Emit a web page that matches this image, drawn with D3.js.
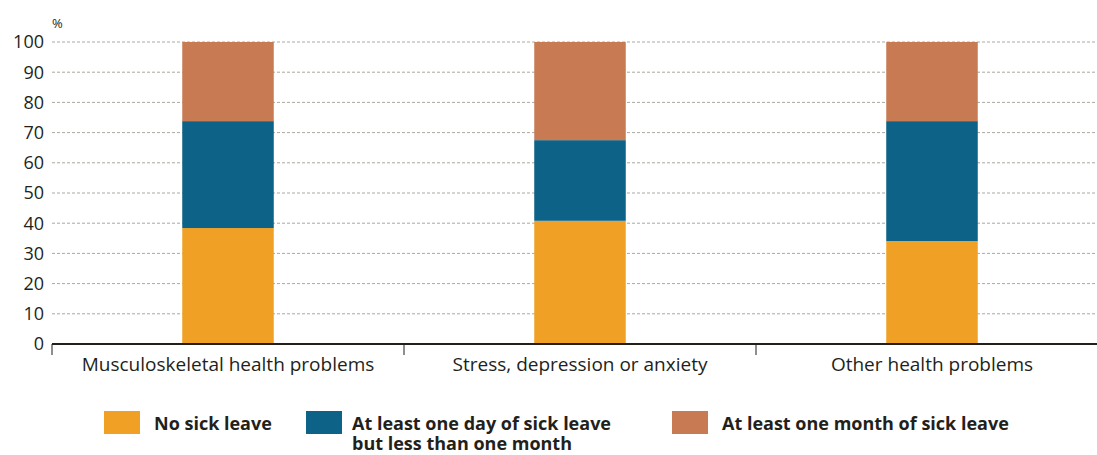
<!DOCTYPE html>
<html>
<head>
<meta charset="utf-8">
<script src="https://cdn.jsdelivr.net/npm/d3@7"></script>
<style>
  body { margin: 0; background: #fff; }
  svg { display: block; font-family: "Open Sans", "Noto Sans", sans-serif; }
  .y-label { font-size: 18px; fill: #231f1a; }
  .x-label { font-size: 19px; fill: #231f1a; }
  .legend-text { font-size: 18px; font-weight: bold; fill: #231f1a; }
</style>
</head>
<body>
<div id="chart"></div>
<script>
// categories and values (percent)
const categories = ["Musculoskeletal health problems", "Stress, depression or anxiety", "Other health problems"];
const noSickLeave = [38.4, 40.8, 34.1];
const atLeastOneDay = [35.4, 26.7, 39.7];
const atLeastOneMonth = [26.2, 32.5, 26.2];
const seriesNames = ["No sick leave", "At least one day of sick leave\nbut less than one month", "At least one month of sick leave"];
const seriesColors = ["#f0a125", "#0d6387", "#c87a53"];
const yTicks = [0, 10, 20, 30, 40, 50, 60, 70, 80, 90, 100];

const width = 1097, height = 455;
const margin = {top: 42, left: 52, bottom: 111};

const svg = d3.select("#chart").append("svg")
    .attr("width", width)
    .attr("height", height);

const rows = categories.map((c, i) => ({
    cat: c,
    s0: noSickLeave[i],
    s1: atLeastOneDay[i],
    s2: atLeastOneMonth[i]
}));

const stack = d3.stack().keys(["s0", "s1", "s2"]);
const stacked = stack(rows);

const x = d3.scaleBand()
    .domain(categories)
    .range([margin.left, margin.left + 352 * 3])
    .paddingInner(0.74)
    .paddingOuter(0.37);

const y = d3.scaleLinear()
    .domain([0, 100])
    .range([height - margin.bottom, margin.top]);

// gridlines
svg.append("g")
    .selectAll("line")
    .data(yTicks.filter(d => d > 0))
    .join("line")
    .attr("x1", margin.left)
    .attr("x2", width)
    .attr("y1", d => y(d))
    .attr("y2", d => y(d))
    .attr("stroke", "#a9a9a1")
    .attr("stroke-width", 1)
    .attr("stroke-dasharray", "3,2");

// y labels
svg.append("g")
    .selectAll("text")
    .data(yTicks)
    .join("text")
    .attr("class", "y-label")
    .attr("x", 44)
    .attr("y", d => y(d))
    .attr("dy", "0.35em")
    .attr("text-anchor", "end")
    .text(d => d);

svg.append("text")
    .attr("x", 52)
    .attr("y", 28)
    .attr("font-size", 13)
    .attr("fill", "#231f1a")
    .text("%");

// bars
svg.append("g")
    .selectAll("g")
    .data(stacked)
    .join("g")
    .attr("fill", (d, i) => seriesColors[i])
    .selectAll("rect")
    .data(d => d)
    .join("rect")
    .attr("x", d => x(d.data.cat))
    .attr("width", x.bandwidth())
    .attr("y", d => y(d[1]))
    .attr("height", d => y(d[0]) - y(d[1]));

// x axis
const axisY = y(0);
svg.append("line")
    .attr("x1", margin.left)
    .attr("x2", width)
    .attr("y1", axisY)
    .attr("y2", axisY)
    .attr("stroke", "#231f1a")
    .attr("stroke-width", 2);

const step = x.step();
const sepX = d3.range(categories.length).map(i => margin.left + i * step);
svg.append("g")
    .selectAll("line")
    .data(sepX)
    .join("line")
    .attr("x1", d => d)
    .attr("x2", d => d)
    .attr("y1", axisY)
    .attr("y2", axisY + 11)
    .attr("stroke", "#231f1a")
    .attr("stroke-width", 1);

svg.append("g")
    .selectAll("text")
    .data(categories)
    .join("text")
    .attr("class", "x-label")
    .attr("x", d => x(d) + x.bandwidth() / 2)
    .attr("y", axisY + 27)
    .attr("text-anchor", "middle")
    .text(d => d);

// legend
const legendX = [104, 306, 672];
const legend = svg.append("g")
    .selectAll("g")
    .data(seriesNames)
    .join("g")
    .attr("transform", (d, i) => `translate(${legendX[i]},411)`);

legend.append("rect")
    .attr("width", 36)
    .attr("height", 23)
    .attr("fill", (d, i) => seriesColors[i]);

legend.append("text")
    .attr("class", "legend-text")
    .attr("x", (d, i) => i === 1 ? 46 : 50)
    .attr("y", 19)
    .selectAll("tspan")
    .data(d => d.split("\n"))
    .join("tspan")
    .attr("x", function() { return this.parentNode.getAttribute("x"); })
    .attr("dy", (d, i) => i === 0 ? 0 : 20)
    .text(d => d);
</script>
</body>
</html>
